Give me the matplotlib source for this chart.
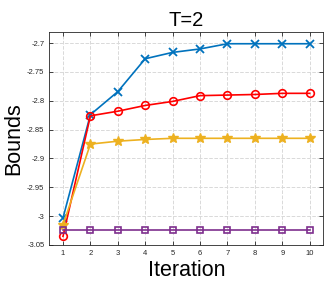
import matplotlib
matplotlib.use('Agg')
import matplotlib.pyplot as plt

plt.rcParams['font.family'] = ['Liberation Sans', 'DejaVu Sans']

# Datos
iteracion = [1, 2, 3, 4, 5, 6, 7, 8, 9, 10]
azul = [-3.003, -2.824, -2.784, -2.727, -2.716, -2.710, -2.701, -2.701, -2.701, -2.701]
rojo = [-3.035, -2.826, -2.818, -2.808, -2.801, -2.791, -2.790, -2.789, -2.787, -2.787]
amarillo = [-3.015, -2.875, -2.870, -2.867, -2.865, -2.865, -2.865, -2.865, -2.865, -2.865]
morado = [-3.024, -3.024, -3.024, -3.024, -3.024, -3.024, -3.024, -3.024, -3.024, -3.024]

yticks = [-3.05, -3.0, -2.95, -2.9, -2.85, -2.8, -2.75, -2.7]
yticklabels = ['-3.05', '-3', '-2.95', '-2.9', '-2.85', '-2.8', '-2.75', '-2.7']

fig = plt.figure(figsize=(3.32, 2.85), dpi=100)
ax = fig.add_axes([0.1485, 0.1404, 0.8255, 0.7486])

ax.plot(iteracion, azul, color=(0, 0.447, 0.741), marker='x', markersize=5.5, lw=1.2, mew=1.3)
ax.plot(iteracion, rojo, color='red', marker='o', markersize=5.5, lw=1.2, mew=1.2, mfc='none')
ax.plot(iteracion, amarillo, color=(0.929, 0.694, 0.125), marker='*', markersize=7, lw=1.2, mew=1.0)
ax.plot(iteracion, morado, color=(0.494, 0.184, 0.556), marker='s', markersize=5, lw=1.2, mew=1.2, mfc='none')

ax.set_xlim(0.5, 10.5)
ax.set_ylim(-3.05, -2.68)
ax.set_xticks(iteracion)
ax.set_yticks(yticks)
ax.set_yticklabels(yticklabels)
ax.tick_params(direction='in', top=True, right=True, labelsize=5.5, length=3, width=0.6, colors='#262626')
ax.grid(True, linestyle='--', color='#d9d9d9', linewidth=0.7)
for s in ax.spines.values():
    s.set_color('#262626')
    s.set_linewidth(0.6)

ax.set_title('T=2', fontsize=14.5, pad=4)
ax.set_xlabel('Iteration', fontsize=15.5, labelpad=2)
ax.set_ylabel('Bounds', fontsize=15.5, labelpad=2)

plt.savefig('out.png', dpi=100)
